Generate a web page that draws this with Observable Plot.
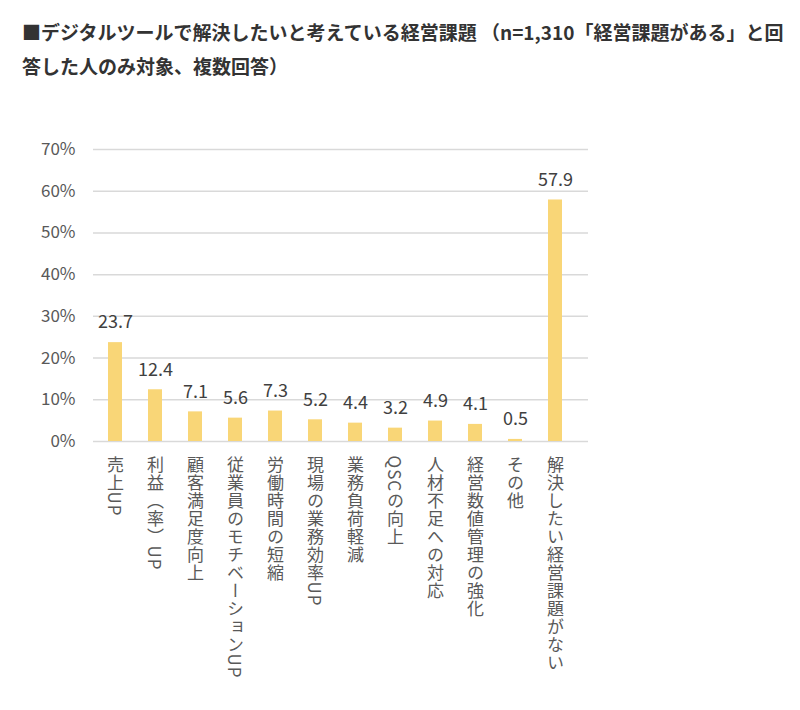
<!DOCTYPE html>
<html><head><meta charset="utf-8">
<script src="https://cdn.jsdelivr.net/npm/d3@7"></script>
<script src="https://cdn.jsdelivr.net/npm/@observablehq/plot@0.6"></script>
<style>
body{margin:0;background:#fff;font-family:"Noto Sans CJK JP","Noto Sans",sans-serif;}
#title{position:absolute;left:22px;top:15px;font-size:19px;font-weight:bold;color:#333;line-height:34px;white-space:nowrap;}
#chart{position:absolute;left:0;top:100px;}
</style></head><body>
<div id="title">■デジタルツールで解決したいと考えている経営課題 （n=1,310「経営課題がある」と回<br>答した人のみ対象、複数回答）</div>
<div id="chart"></div>
<script>
const categories = ["売上UP","利益（率）UP","顧客満足度向上","従業員のモチベーションUP","労働時間の短縮","現場の業務効率UP","業務負荷軽減","QSCの向上","人材不足への対応","経営数値管理の強化","その他","解決したい経営課題がない"];
const values = [23.7,12.4,7.1,5.6,7.3,5.2,4.4,3.2,4.9,4.1,0.5,57.9];
const yTicks = [0,10,20,30,40,50,60,70];
const data = categories.map((c,i)=>({cat:c, v:values[i]}));

const plot = Plot.plot({
  width: 800, height: 610,
  marginTop: 49, marginBottom: 269, marginLeft: 93, marginRight: 212,
  style: {fontFamily: '"Noto Sans CJK JP","Noto Sans",sans-serif', fontSize: "16px", color: "#595959"},
  x: {domain: categories, range: [93, 578], paddingInner: 0.64, paddingOuter: 0.32, label: null},
  y: {domain: [0,70], label: null},
  marks: [
    Plot.gridY(yTicks, {stroke: "#d9d9d9", strokeOpacity: 1, strokeWidth: 1.5}),
    Plot.axisY(yTicks, {tickSize: 0, tickPadding: 18, tickFormat: d => d + "%", fontSize: 17, fill: "#595959", label: null}),
    Plot.axisX({tickSize: 0, tickPadding: 2, fontSize: 17, fill: "#595959", label: null}),
    Plot.barY(data, {x: "cat", y: "v", fill: "#F9D677"}),
    Plot.text(data, {x: "cat", y: "v", text: d => d.v.toFixed(1), dy: -20, fontSize: 18, fill: "#404040", lineAnchor: "middle"})
  ]
});
document.getElementById("chart").appendChild(plot);
plot.querySelectorAll('g[aria-label="x-axis tick label"]').forEach(g => {
  g.removeAttribute("dy");
  g.setAttribute("text-anchor", "start");
  g.querySelectorAll("text").forEach(t => {
    t.removeAttribute("dy");
    t.style.writingMode = "vertical-rl";
    t.style.letterSpacing = "1px";
    t.setAttribute("text-anchor", "start");
  });
});
</script>
</body></html>
